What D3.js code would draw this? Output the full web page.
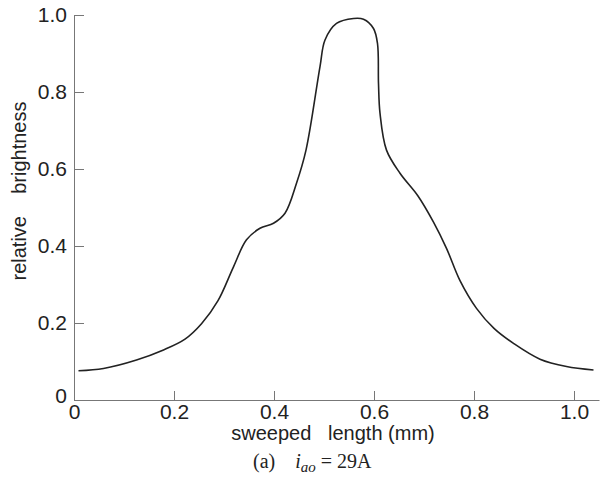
<!DOCTYPE html>
<html>
<head>
<meta charset="utf-8">
<script src="https://cdn.jsdelivr.net/npm/d3@7"></script>
<style>
  body { margin: 0; background: #fff; }
  .axis text { font-family: "Liberation Sans", Arial, sans-serif; font-size: 21px; fill: #222; }
  .axis path, .axis line { stroke: #777; stroke-width: 1; }
  .lbl { font-family: "Liberation Sans", Arial, sans-serif; font-size: 20px; fill: #222; white-space: pre; }
  .cap { font-family: "Liberation Serif", "Times New Roman", serif; font-size: 20px; fill: #222; white-space: pre; }
</style>
</head>
<body>
<svg id="chart" width="601" height="477"></svg>
<script>
// sweeped length (mm) and relative brightness
var lengthMm = [0.009, 0.059, 0.125, 0.179, 0.222, 0.255, 0.288, 0.319, 0.345, 0.372, 0.399, 0.422,
  0.445, 0.464, 0.492, 0.502, 0.525, 0.559, 0.579, 0.599, 0.607, 0.609, 0.612, 0.625, 0.652, 0.688,
  0.719, 0.745, 0.772, 0.805, 0.840, 0.879, 0.932, 0.985, 1.039];
var brightness = [0.076, 0.082, 0.104, 0.130, 0.158, 0.198, 0.258, 0.346, 0.416, 0.446, 0.459, 0.485,
  0.563, 0.649, 0.866, 0.935, 0.978, 0.991, 0.989, 0.965, 0.926, 0.822, 0.745, 0.649, 0.589, 0.530,
  0.462, 0.394, 0.310, 0.238, 0.186, 0.147, 0.106, 0.087, 0.078];
var xTicks = [0, 0.2, 0.4, 0.6, 0.8, 1.0];
var yTicks = [0, 0.2, 0.4, 0.6, 0.8, 1.0];

var svg = d3.select("#chart");

var x = d3.scaleLinear().domain([0, 1.05]).range([74, 599]);
var y = d3.scaleLinear().domain([0, 1]).range([400, 15]);

function fmt(d) { return d === 0 ? "0" : d3.format(".1f")(d); }

svg.append("g")
  .attr("class", "x axis")
  .attr("transform", "translate(0," + y(0) + ")")
  .call(d3.axisBottom(x).tickValues(xTicks).tickFormat(fmt).tickSize(-9).tickSizeOuter(0).tickPadding(4));

svg.append("g")
  .attr("class", "y axis")
  .attr("transform", "translate(" + x(0) + ",0)")
  .call(d3.axisLeft(y).tickValues(yTicks).tickFormat(fmt).tickSize(-10).tickSizeOuter(0).tickPadding(7));

// the two "0" labels sit at the corner, nudge them apart like the original
svg.select(".y.axis").selectAll(".tick").filter(function(d) { return d === 0; })
  .select("text").attr("dy", "0.1em");

var points = lengthMm.map(function(d, i) { return [d, brightness[i]]; });

var line = d3.line()
  .x(function(d) { return x(d[0]); })
  .y(function(d) { return y(d[1]); })
  .curve(d3.curveCatmullRom.alpha(0.5));

svg.append("path")
  .datum(points)
  .attr("fill", "none")
  .attr("stroke", "#222")
  .attr("stroke-width", 1.6)
  .attr("d", line);

svg.append("text")
  .attr("class", "lbl")
  .attr("text-anchor", "middle")
  .attr("transform", "translate(26,191) rotate(-90)")
  .text("relative    brightness");

svg.append("text")
  .attr("class", "lbl")
  .attr("text-anchor", "middle")
  .attr("x", 333)
  .attr("y", 440)
  .text("sweeped   length (mm)");

var cap = svg.append("text")
  .attr("class", "cap")
  .attr("x", 253)
  .attr("y", 468);
cap.append("tspan").text("(a)    ");
cap.append("tspan").attr("font-style", "italic").text("i");
cap.append("tspan").attr("font-style", "italic").attr("font-size", "15px").attr("dy", 4).text("ao");
cap.append("tspan").attr("dy", -4).text(" = 29A");
</script>
</body>
</html>
